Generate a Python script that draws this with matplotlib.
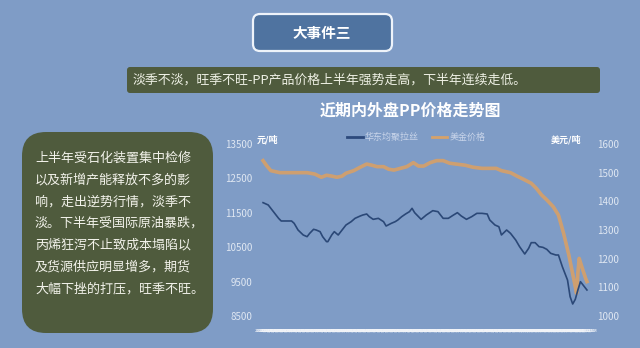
import matplotlib
matplotlib.use("Agg")
import matplotlib.pyplot as plt
from matplotlib.patches import FancyBboxPatch
import pandas as pd

plt.rcParams['font.family'] = ['Noto Sans CJK SC', 'DejaVu Sans']

# 华东均聚拉丝 (元/吨) - trading day index, price
blue_day = [0, 4, 8, 12, 14, 18, 22, 24, 27, 31, 34, 36, 39, 41, 44, 46, 49, 50, 53, 55,
            58, 61, 64, 68, 71, 75, 77, 80, 82, 85, 89, 93, 95, 99, 102, 104, 107, 110, 113, 115,
            117, 120, 122, 126, 131, 135, 139, 143, 147, 150, 153, 157, 161, 165, 169, 173, 175, 179, 182, 184,
            188, 191, 195, 198, 202, 205, 207, 210, 213, 216, 219, 222, 226, 228, 231, 235, 237, 239, 241, 243,
            245, 247, 250]
blue_val = [11795, 11727, 11533, 11339, 11262, 11262, 11262, 11194, 11000, 10855, 10806, 10903, 11020, 11000, 10952, 10806, 10661, 10661, 10855, 10952,
            10855, 11000, 11145, 11242, 11339, 11407, 11436, 11465, 11387, 11310, 11339, 11242, 11116, 11194, 11242, 11290, 11387, 11465, 11533, 11630,
            11504, 11387, 11310, 11436, 11562, 11533, 11339, 11339, 11436, 11504, 11407, 11310, 11387, 11484, 11484, 11465, 11290, 11145, 11096, 10855,
            11000, 10903, 10709, 10516, 10302, 10467, 10632, 10632, 10516, 10496, 10438, 10322, 10273, 10273, 9934, 9546, 9062, 8849, 8985, 9256,
            9498, 9401, 9256]

# 美金价格 (美元/吨)
orange_day = [0, 3, 6, 13, 23, 34, 40, 45, 49, 53, 57, 61, 64, 70, 75, 80, 84, 88, 93, 97,
              101, 106, 111, 116, 120, 124, 129, 134, 139, 144, 149, 156, 162, 169, 175, 180, 184, 191, 196, 201,
              207, 211, 215, 219, 224, 228, 232, 236, 240, 242, 243, 244, 246, 249, 250]
orange_val = [1542, 1523, 1507, 1500, 1500, 1500, 1495, 1484, 1491, 1488, 1484, 1488, 1498, 1507, 1519, 1530, 1526, 1521, 1521, 1512,
              1509, 1515, 1521, 1535, 1523, 1523, 1535, 1542, 1542, 1533, 1530, 1526, 1519, 1515, 1515, 1515, 1507, 1500, 1488, 1477,
              1463, 1445, 1422, 1405, 1381, 1352, 1288, 1213, 1125, 1079, 1149, 1201, 1172, 1131, 1120]

dates = pd.bdate_range('2014-01-02', periods=251)
tick_days = list(range(251))
date_labels = [f"{d.year}/{d.month}/{d.day}" for d in dates]

left_ticks = [8500, 9500, 10500, 11500, 12500, 13500]
right_ticks = [1000, 1100, 1200, 1300, 1400, 1500, 1600]

box_title = "大事件三"
banner = "淡季不淡，旺季不旺-PP产品价格上半年强势走高，下半年连续走低。"
side_lines = ["上半年受石化装置集中检修", "以及新增产能释放不多的影", "响，走出逆势行情，淡季不",
              "淡。下半年受国际原油暴跌，", "丙烯狂泻不止致成本塌陷以", "及货源供应明显增多，期货",
              "大幅下挫的打压，旺季不旺。"]

BG = '#7f9cc6'
OLIVE = '#4f5b3d'
TICK = '#dfe7f2'

fig = plt.figure(figsize=(6.4, 3.48), dpi=100, facecolor=BG)

# pixel-space overlay for boxes and texts
bg = fig.add_axes([0, 0, 1, 1], zorder=0)
bg.set_xlim(0, 640)
bg.set_ylim(348, 0)
bg.axis('off')

bg.add_patch(FancyBboxPatch((253, 14), 139, 37, boxstyle="round,pad=0,rounding_size=7",
                            fc='#4f73a0', ec='#eef3fa', lw=1.6))
bg.text(322, 33, box_title, color='white', fontsize=10.5, fontweight='bold', ha='center', va='center')

bg.add_patch(FancyBboxPatch((127, 67), 473, 26, boxstyle="round,pad=0,rounding_size=3",
                            fc=OLIVE, ec='none'))
bg.text(133, 80, banner, color='#eef0e4', fontsize=9.3, ha='left', va='center')

bg.add_patch(FancyBboxPatch((22, 132), 191, 201, boxstyle="round,pad=0,rounding_size=24",
                            fc=OLIVE, ec='none'))
for i, line in enumerate(side_lines):
    bg.text(35, 158 + i * 21.8, line, color='#f2f2ea', fontsize=9.4, ha='left', va='center')

bg.text(410, 111, "近期内外盘PP价格走势图", color='white', fontsize=11.5, fontweight='bold',
        ha='center', va='center')
bg.text(257, 140, "元/吨", color='white', fontsize=6.5, fontweight='bold', ha='left', va='center')
bg.text(551, 140, "美元/吨", color='white', fontsize=6.5, fontweight='bold', ha='left', va='center')

# legend
bg.plot([347, 363], [137, 137], color='#2d4a7c', lw=2)
bg.text(365, 137, "华东均聚拉丝", color='#c9d5ea', fontsize=6.5, ha='left', va='center')
bg.plot([432, 447], [137, 137], color='#d6a26a', lw=2)
bg.text(450, 137, "美金价格", color='#c9d5ea', fontsize=6.5, ha='left', va='center')

# chart
ax = fig.add_axes([258 / 640, 1 - 316 / 348, 334 / 640, 172 / 348], zorder=2)
ax.patch.set_alpha(0)
ax2 = ax.twinx()

ax.plot(blue_day, blue_val, color='#2b4877', lw=1.2, zorder=3)
ax2.plot(orange_day, orange_val, color='#d3a06c', lw=2.6, alpha=0.95, zorder=2)

ax.set_xlim(-3.9, 253.9)
ax.set_ylim(8500, 13500)
ax2.set_ylim(1000, 1600)
ax.set_yticks(left_ticks)
ax2.set_yticks(right_ticks)
ax.set_xticks(tick_days)
ax.set_xticklabels(date_labels, fontsize=3, color='#f4f6fa', rotation=0)

for a in (ax, ax2):
    for s in a.spines.values():
        s.set_visible(False)
    a.tick_params(axis='y', length=0, labelsize=7, labelcolor=TICK, pad=4)
ax.tick_params(axis='x', length=0, pad=9)
ax.set_zorder(3)

fig.savefig('out.png', dpi=100, facecolor=BG)
